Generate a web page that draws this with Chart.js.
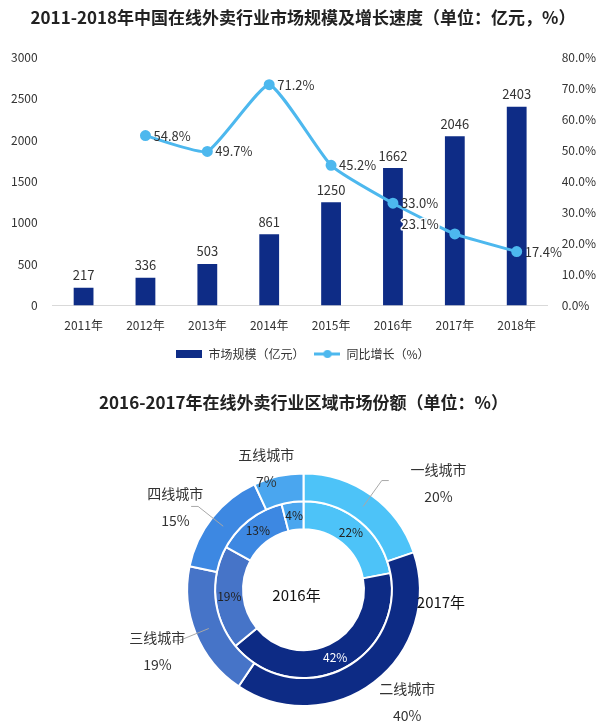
<!DOCTYPE html>
<html>
<head>
<meta charset="utf-8">
<script src="https://cdn.jsdelivr.net/npm/chart.js@4.4.1/dist/chart.umd.min.js"></script>
<style>
  body { margin: 0; background: #fff; }
  .box { position: relative; width: 607px; }
  #top { height: 375px; }
  #bottom { height: 351px; }
</style>
</head>
<body>
<div class="box" id="top"><canvas id="scaleChart"></canvas></div>
<div class="box" id="bottom"><canvas id="shareChart"></canvas></div>
<script>
// Data
const years = ['2011年', '2012年', '2013年', '2014年', '2015年', '2016年', '2017年', '2018年'];
const marketSize = [217, 336, 503, 861, 1250, 1662, 2046, 2403];
const growthRate = [null, 54.8, 49.7, 71.2, 45.2, 33.0, 23.1, 17.4];

const cityTiers = ['一线城市', '二线城市', '三线城市', '四线城市', '五线城市'];
const share2016 = [22, 42, 19, 13, 4];
const share2017 = [20, 40, 19, 15, 7];

const fontFamily = "'Noto Sans CJK SC', 'Noto Sans', sans-serif";
const navy = '#0e2c86';
const lightBlue = '#4db8ee';
const tierColors = ['#4dc3f8', '#0d2b85', '#4674c8', '#3d88e2', '#4aa6ef'];

Chart.defaults.font.family = fontFamily;
Chart.defaults.color = '#333';
Chart.defaults.animation = false;

// Legend icons: a wide bar box and a line with a dot
const makeIcon = (drawFn) => {
    const c = document.createElement('canvas');
    c.width = 26;
    c.height = 10;
    drawFn(c.getContext('2d'));
    return c;
}
const barIcon = makeIcon(g => {
    g.fillStyle = navy;
    g.fillRect(0, 1, 26, 8);
});
const lineIcon = makeIcon(g => {
    g.strokeStyle = lightBlue;
    g.lineWidth = 3;
    g.beginPath();
    g.moveTo(0, 5);
    g.lineTo(26, 5);
    g.stroke();
    g.fillStyle = lightBlue;
    g.beginPath();
    g.arc(13, 5, 4, 0, Math.PI * 2);
    g.fill();
});

// Value labels for bars and the growth line
const scaleLabels = {
    id: 'scaleLabels',
    afterDatasetsDraw(chart, args, opts) {
        const ctx = chart.ctx;
        ctx.save();
        ctx.font = '13px ' + fontFamily;
        ctx.fillStyle = '#333';

        ctx.textAlign = 'center';
        ctx.textBaseline = 'bottom';
        chart.getDatasetMeta(0).data.forEach((bar, i) => {
            ctx.fillText(String(marketSize[i]), bar.x, bar.y - 6);
        });

        ctx.textBaseline = 'middle';
        chart.getDatasetMeta(1).data.forEach((pt, i) => {
            if (growthRate[i] == null) return;
            const text = growthRate[i].toFixed(1) + '%';
            if (opts.leftOf.includes(i)) {
                // sits next to a bar, so give it a white halo
                ctx.textAlign = 'right';
                ctx.strokeStyle = '#fff';
                ctx.lineWidth = 3;
                ctx.lineJoin = 'round';
                ctx.strokeText(text, pt.x - 16, pt.y - 10);
                ctx.fillText(text, pt.x - 16, pt.y - 10);
            } else {
                ctx.textAlign = 'left';
                ctx.fillText(text, pt.x + 8, pt.y);
            }
        });
        ctx.restore();
    }
}

new Chart(document.getElementById('scaleChart'), {
    type: 'bar',
    data: {
        labels: years,
        datasets: [{
            type: 'bar',
            label: '市场规模（亿元）',
            data: marketSize,
            backgroundColor: navy,
            barPercentage: 0.4,
            categoryPercentage: 0.8,
            yAxisID: 'y',
            order: 2
        }, {
            type: 'line',
            label: '同比增长（%）',
            data: growthRate,
            borderColor: lightBlue,
            backgroundColor: lightBlue,
            borderWidth: 3,
            pointRadius: 4,
            pointBackgroundColor: lightBlue,
            tension: 0.15,
            yAxisID: 'y1',
            order: 1
        }]
    },
    options: {
        responsive: true,
        maintainAspectRatio: false,
        layout: {
            padding: { left: 4, right: 5, top: 0, bottom: 5 }
        },
        scales: {
            x: {
                grid: { display: false },
                border: { display: true, color: '#d9d9d9' },
                ticks: { font: { size: 12 }, color: '#333', padding: 5 }
            },
            y: {
                position: 'left',
                min: 0,
                max: 3000,
                grid: { display: false },
                border: { display: false },
                ticks: { stepSize: 500, font: { size: 12 }, color: '#333', padding: 7, callback: v => String(v) }
            },
            y1: {
                position: 'right',
                min: 0,
                max: 80,
                grid: { display: false },
                border: { display: false },
                ticks: {
                    stepSize: 10,
                    font: { size: 12 },
                    color: '#333',
                    padding: 6,
                    callback: v => v.toFixed(1) + '%'
                }
            }
        },
        plugins: {
            title: {
                display: true,
                text: '2011-2018年中国在线外卖行业市场规模及增长速度（单位：亿元，%）',
                font: { size: 17, weight: 'bold' },
                color: '#222',
                padding: { top: 7, bottom: 30 }
            },
            legend: {
                position: 'bottom',
                labels: {
                    usePointStyle: true,
                    pointStyleWidth: 26,
                    boxHeight: 10,
                    padding: 10,
                    font: { size: 12 },
                    color: '#333',
                    sort: (a, b) => a.datasetIndex - b.datasetIndex,
                    generateLabels: chart => {
                        const items = Chart.defaults.plugins.legend.labels.generateLabels(chart);
                        return items.map(item => ({ ...item, pointStyle: item.datasetIndex === 0 ? barIcon : lineIcon }));
                    }
                }
            },
            tooltip: { enabled: false },
            scaleLabels: { leftOf: [6] }
        }
    },
    plugins: [scaleLabels]
});

// Labels for the two doughnut rings
const shareLabels = {
    id: 'shareLabels',
    afterDatasetsDraw(chart, args, opts) {
        const ctx = chart.ctx;
        const outer = chart.getDatasetMeta(0).data;
        const inner = chart.getDatasetMeta(1).data;
        ctx.save();
        ctx.textAlign = 'center';
        ctx.textBaseline = 'middle';

        ctx.font = '12px ' + fontFamily;
        inner.forEach((arc, i) => {
            const mid = (arc.startAngle + arc.endAngle) / 2;
            const r = (arc.innerRadius + arc.outerRadius) / 2;
            ctx.fillStyle = i === 1 ? '#fff' : '#222';
            ctx.fillText(share2016[i] + '%', arc.x + Math.cos(mid) * r, arc.y + Math.sin(mid) * r);
        });

        ctx.font = '14px ' + fontFamily;
        outer.forEach((arc, i) => {
            const mid = (arc.startAngle + arc.endAngle) / 2;
            const cos = Math.cos(mid);
            const sin = Math.sin(mid);
            if (opts.leaders[i]) {
                const r0 = (arc.innerRadius + arc.outerRadius) / 2;
                const r1 = arc.outerRadius + 18;
                const ex = arc.x + cos * r1;
                const ey = arc.y + sin * r1;
                ctx.strokeStyle = '#a8a8a8';
                ctx.lineWidth = 1;
                ctx.beginPath();
                ctx.moveTo(arc.x + cos * r0, arc.y + sin * r0);
                ctx.lineTo(ex, ey);
                ctx.lineTo(ex + (cos > 0 ? 7 : -7), ey);
                ctx.stroke();
            }
            const [nx, ny] = opts.nudge[i];
            const lx = arc.x + cos * (arc.outerRadius + 33) + nx;
            const ly = arc.y + sin * (arc.outerRadius + 33) + ny;
            ctx.fillStyle = '#333';
            ctx.fillText(cityTiers[i], lx, ly - 13);
            ctx.fillText(share2017[i] + '%', lx, ly + 14);
        });

        const c = outer[0];
        ctx.font = '15px ' + fontFamily;
        ctx.fillStyle = '#111';
        ctx.fillText(chart.data.datasets[1].label, c.x - 7, c.y + 6);
        ctx.textAlign = 'left';
        ctx.fillText(chart.data.datasets[0].label, c.x + c.outerRadius - 3, c.y + 13);
        ctx.restore();
    }
}

new Chart(document.getElementById('shareChart'), {
    type: 'doughnut',
    data: {
        labels: cityTiers,
        datasets: [{
            label: '2017年',
            data: share2017,
            backgroundColor: tierColors,
            borderColor: '#fff',
            borderWidth: 2
        }, {
            label: '2016年',
            data: share2016,
            backgroundColor: tierColors,
            borderColor: '#fff',
            borderWidth: 2
        }]
    },
    options: {
        responsive: true,
        maintainAspectRatio: false,
        cutout: '52%',
        layout: {
            padding: { left: 0, right: 0, top: 0, bottom: 19 }
        },
        plugins: {
            title: {
                display: true,
                text: '2016-2017年在线外卖行业区域市场份额（单位：%）',
                font: { size: 17, weight: 'bold' },
                color: '#222',
                padding: { top: 17, bottom: 60 }
            },
            legend: { display: false },
            tooltip: { enabled: false },
            shareLabels: {
                leaders: [true, false, true, true, false],
                nudge: [[48, 14], [13, -7], [-8, 4], [-11, 10], [-5, 24]]
            }
        }
    },
    plugins: [shareLabels]
});
</script>
</body>
</html>
